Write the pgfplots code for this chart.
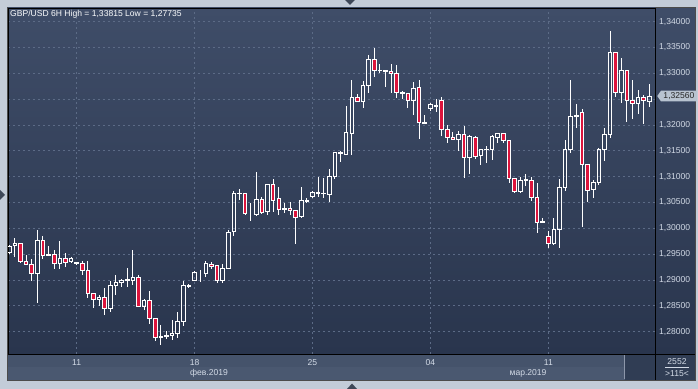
\documentclass[border=0pt]{standalone}
\usepackage{pgfplots}
\usepackage{pgfplotstable}
\pgfplotsset{compat=1.18}
\usetikzlibrary{shapes.symbols}
\usepackage{fontspec}
\setmainfont{Liberation Sans}
\definecolor{framec}{HTML}{C3CCD8}
\definecolor{bgtop}{HTML}{3F4D68}
\definecolor{bgbot}{HTML}{29354D}
\definecolor{gridc}{HTML}{5C6B86}
\definecolor{bandA}{HTML}{45536B}
\definecolor{bandB}{HTML}{4A5870}
\definecolor{dbox}{HTML}{303D54}
\definecolor{lbl}{HTML}{D2DAE6}
\definecolor{dn}{HTML}{DC143C}
\definecolor{pricebox}{HTML}{B8C3D0}
\definecolor{tri}{HTML}{3E4858}
\newcommand\lfont{\fontsize{8.6}{10}\selectfont}
% 6H candles: index, open, high, low, close
\pgfplotstableread{
i O H L C
0 1.2953 1.2968 1.2950 1.2964
1 1.2966 1.2981 1.2945 1.2970
2 1.2970 1.2970 1.2932 1.2936
3 1.2936 1.2948 1.2928 1.2930
4 1.2930 1.2940 1.2897 1.2912
5 1.2912 1.2997 1.2855 1.2977
6 1.2977 1.2985 1.2941 1.2948
7 1.2948 1.2965 1.2947 1.2950
8 1.2950 1.2958 1.2922 1.2932
9 1.2932 1.2975 1.2921 1.2942
10 1.2942 1.2952 1.2926 1.2934
11 1.2935 1.2945 1.2932 1.2941
12 1.2932 1.2935 1.2929 1.2933
13 1.2932 1.2937 1.2910 1.2919
14 1.2919 1.2937 1.2865 1.2874
15 1.2874 1.2874 1.2845 1.2863
16 1.2863 1.2871 1.2850 1.2866
17 1.2866 1.2884 1.2832 1.2845
18 1.2845 1.2898 1.2837 1.2890
19 1.2890 1.2909 1.2870 1.2895
20 1.2895 1.2902 1.2887 1.2898
21 1.2898 1.2923 1.2887 1.2900
22 1.2899 1.2958 1.2890 1.2905
23 1.2905 1.2910 1.2849 1.2849
24 1.2849 1.2864 1.2842 1.2860
25 1.2860 1.2878 1.2815 1.2826
26 1.2826 1.2826 1.2781 1.2789
27 1.2789 1.2813 1.27735 1.2791
28 1.2791 1.2801 1.2785 1.2793
29 1.2793 1.2823 1.2783 1.2797
30 1.2797 1.2838 1.2787 1.2819
31 1.2819 1.2897 1.2810 1.2889
32 1.2888 1.2892 1.2885 1.2889
33 1.2899 1.2918 1.2899 1.2915
34 1.2915 1.2920 1.2896 1.2915
35 1.2913 1.2937 1.2905 1.2931
36 1.2930 1.2935 1.2921 1.2926
37 1.2928 1.2928 1.2895 1.2899
38 1.2899 1.2930 1.2895 1.2923
39 1.2923 1.2997 1.2922 1.2992
40 1.2993 1.3072 1.2985 1.3067
41 1.3067 1.3077 1.3054 1.3068
42 1.3068 1.3068 1.3026 1.3028
43 1.3028 1.3049 1.3014 1.3028
44 1.3026 1.3109 1.3023 1.3055
45 1.3055 1.3061 1.3028 1.3031
46 1.3033 1.3085 1.3025 1.3084
47 1.3084 1.3096 1.3031 1.3054
48 1.3057 1.3079 1.3026 1.3037
49 1.3037 1.3049 1.3030 1.3038
50 1.3039 1.3051 1.3025 1.3035
51 1.3035 1.3035 1.2970 1.3021
52 1.3022 1.3080 1.3021 1.3053
53 1.3052 1.3059 1.3049 1.3053
54 1.3061 1.3072 1.3058 1.3069
55 1.3068 1.3100 1.3060 1.3069
56 1.3067 1.3097 1.3059 1.3068
57 1.3066 1.3114 1.3051 1.3101
58 1.3101 1.3148 1.3095 1.3146
59 1.3145 1.3149 1.3128 1.3146
60 1.3143 1.3237 1.3143 1.3185
61 1.3184 1.3288 1.3141 1.3254
62 1.3254 1.3260 1.3245 1.3245
63 1.3245 1.3286 1.3233 1.3277
64 1.3277 1.3336 1.3262 1.3326
65 1.3326 1.3350 1.3292 1.3306
66 1.3305 1.3318 1.3300 1.3306
67 1.3304 1.3307 1.3273 1.3305
68 1.3304 1.3318 1.3262 1.3299
69 1.3299 1.3316 1.3253 1.3262
70 1.3261 1.3266 1.3251 1.3262
71 1.3260 1.3260 1.3232 1.3248
72 1.3248 1.3284 1.3219 1.3271
73 1.3272 1.3288 1.3172 1.3204
74 1.3203 1.3220 1.3203 1.3204
75 1.3232 1.3243 1.3228 1.3239
76 1.3238 1.3250 1.3225 1.3235
77 1.3248 1.3255 1.3179 1.3192
78 1.3192 1.3199 1.3165 1.3175
79 1.3175 1.3186 1.3172 1.3172
80 1.3172 1.3189 1.3150 1.3181
81 1.3181 1.3198 1.3097 1.3137
82 1.3137 1.3180 1.3106 1.3178
83 1.3176 1.3179 1.3135 1.3139
84 1.3141 1.3152 1.3123 1.3152
85 1.3152 1.3159 1.3126 1.3153
86 1.3153 1.3181 1.3132 1.3177
87 1.3176 1.3184 1.3166 1.3184
88 1.3184 1.3184 1.3166 1.3169
89 1.3169 1.3171 1.3087 1.3097
90 1.3097 1.3097 1.3068 1.3072
91 1.3072 1.3100 1.3068 1.3093
92 1.3093 1.3106 1.3081 1.3094
93 1.3093 1.3100 1.3052 1.3060
94 1.3060 1.3088 1.2990 1.3012
95 1.3012 1.3019 1.3012 1.3014
96 1.2984 1.2994 1.2961 1.2970
97 1.2970 1.3019 1.2968 1.2998
98 1.2998 1.3095 1.2961 1.3079
99 1.3079 1.3171 1.3073 1.3152
100 1.3152 1.3287 1.3146 1.3216
101 1.3217 1.3241 1.3194 1.3219
102 1.3224 1.3230 1.3003 1.3124
103 1.3124 1.3124 1.3050 1.3073
104 1.3075 1.3094 1.3059 1.3089
105 1.3089 1.3155 1.3083 1.3152
106 1.3152 1.3195 1.3131 1.3182
107 1.3182 1.33815 1.3174 1.3340
108 1.3340 1.3340 1.3255 1.3263
109 1.3263 1.3330 1.3242 1.3306
110 1.3306 1.3306 1.3206 1.3247
111 1.3247 1.3287 1.3211 1.3242
112 1.3242 1.3268 1.3221 1.3253
113 1.3253 1.3258 1.3202 1.3247
114 1.3246 1.3279 1.3235 1.3256
}\ohlc
\pgfplotsset{candleframe/.style={at={(8bp,35bp)}, anchor=south west, scale only axis,
  width=647bp, height=346bp, enlargelimits=false,
  xmin=-0.23, xmax=115.0, ymin=1.27566, ymax=1.34265}}
\begin{document}
\begin{tikzpicture}[x=1bp,y=1bp]
\useasboundingbox (0bp,0bp) rectangle (698bp,389bp);
\fill[framec] (0bp,0bp) rectangle (698bp,389bp);
\fill[bandA] (8bp,22bp) rectangle (655bp,35bp);
\fill[bandB] (8bp,9bp) rectangle (655bp,22bp);
\fill[dbox] (625bp,9bp) rectangle (695bp,35bp);
\draw[gridc!70!white, line width=0.8bp] (624.5bp,10bp) -- (624.5bp,34bp);
\shade[top color=bgtop, bottom color=bgbot] (655bp,35bp) rectangle (695bp,381bp);
\draw[black!70, line width=0.6bp] (7.5bp,8.7bp) rectangle (695.3bp,381.5bp);
\draw[black, line width=0.8bp] (655.5bp,9bp) -- (655.5bp,35bp) (655bp,35bp) -- (695bp,35bp);
\begin{axis}[candleframe,
  axis background/.style={shade, top color=bgtop, bottom color=bgbot},
  axis line style={draw=black, line width=0.8bp},
  ymajorgrids, xmajorgrids,
  grid style={draw=gridc, dash pattern=on 2bp off 3bp, line width=0.7bp},
  major tick length=0pt,
  ytick={1.28,1.285,1.29,1.295,1.30,1.305,1.31,1.315,1.32,1.325,1.33,1.335,1.34},
  yticklabels={1{,}28000,1{,}28500,1{,}29000,1{,}29500,1{,}30000,1{,}30500,1{,}31000,1{,}31500,1{,}32000,,1{,}33000,1{,}33500,1{,}34000},
  yticklabel pos=right,
  yticklabel style={font=\lfont, text=lbl, anchor=west, inner sep=0pt, xshift=4bp},
  xtick={12,33,54,75,96}, xticklabels={11,18,25,04,11},
  xticklabel style={font=\lfont, text=lbl, anchor=center, inner sep=0pt, yshift=-8.7bp},
  extra x ticks={35.57,92.39}, extra x tick labels={фев.2019,мар.2019},
  extra x tick style={grid=none, xticklabel style={yshift=-11bp}},
  extra y ticks={1.3256}, extra y tick labels={1{,}32560},
  extra y tick style={grid=none, yticklabel style={shape=signal, signal to=west, signal pointer angle=110, fill=pricebox, text=black!85, inner xsep=2.5bp, inner ysep=1.8bp, xshift=-2bp}},
]
% lower wicks
\addplot[draw=none, forget plot, error bars/.cd, y dir=minus, y explicit, error mark=none,
  error bar style={draw=white, line width=1bp}]
  table[x=i, y expr={min(\thisrow{O},\thisrow{C})},
        y error minus expr={min(\thisrow{O},\thisrow{C})-\thisrow{L}}] {\ohlc};
% upper wicks
\addplot[draw=none, forget plot, error bars/.cd, y dir=plus, y explicit, error mark=none,
  error bar style={draw=white, line width=1bp}]
  table[x=i, y expr={max(\thisrow{O},\thisrow{C})},
        y error plus expr={\thisrow{H}-max(\thisrow{O},\thisrow{C})}] {\ohlc};
\end{axis}
\begin{axis}[candleframe, hide axis, ybar stacked, bar width=3.6bp]
\addplot[draw=none, fill=none] table[x=i, y expr={min(\thisrow{O},\thisrow{C})}] {\ohlc};
\addplot[draw=white, fill=none, line width=1bp] table[x=i, y expr={max(\thisrow{C}-\thisrow{O},0)}] {\ohlc};
\addplot[draw=white, fill=dn, line width=1bp] table[x=i, y expr={max(\thisrow{O}-\thisrow{C},0)}] {\ohlc};
\end{axis}
\node[anchor=north west, inner sep=0pt, text=white!92!lbl, font=\lfont] at (10bp,378.5bp) {GBP/USD 6H High = 1,33815 Low = 1,27735};
\node[text=lbl, font=\lfont, inner sep=0pt] at (677bp,27.5bp) {2552};
\draw[lbl, line width=0.6bp] (665bp,21.3bp) -- (689bp,21.3bp);
\node[text=lbl, font=\lfont, inner sep=0pt] at (677bp,15bp) {>115<};
\fill[tri] (345bp,389bp) -- (355bp,389bp) -- (350bp,384bp) -- cycle;
\fill[tri] (0bp,189bp) -- (0bp,199bp) -- (5bp,194bp) -- cycle;
\fill[tri] (347bp,0bp) -- (357bp,0bp) -- (352bp,5.5bp) -- cycle;
\end{tikzpicture}
\end{document}
